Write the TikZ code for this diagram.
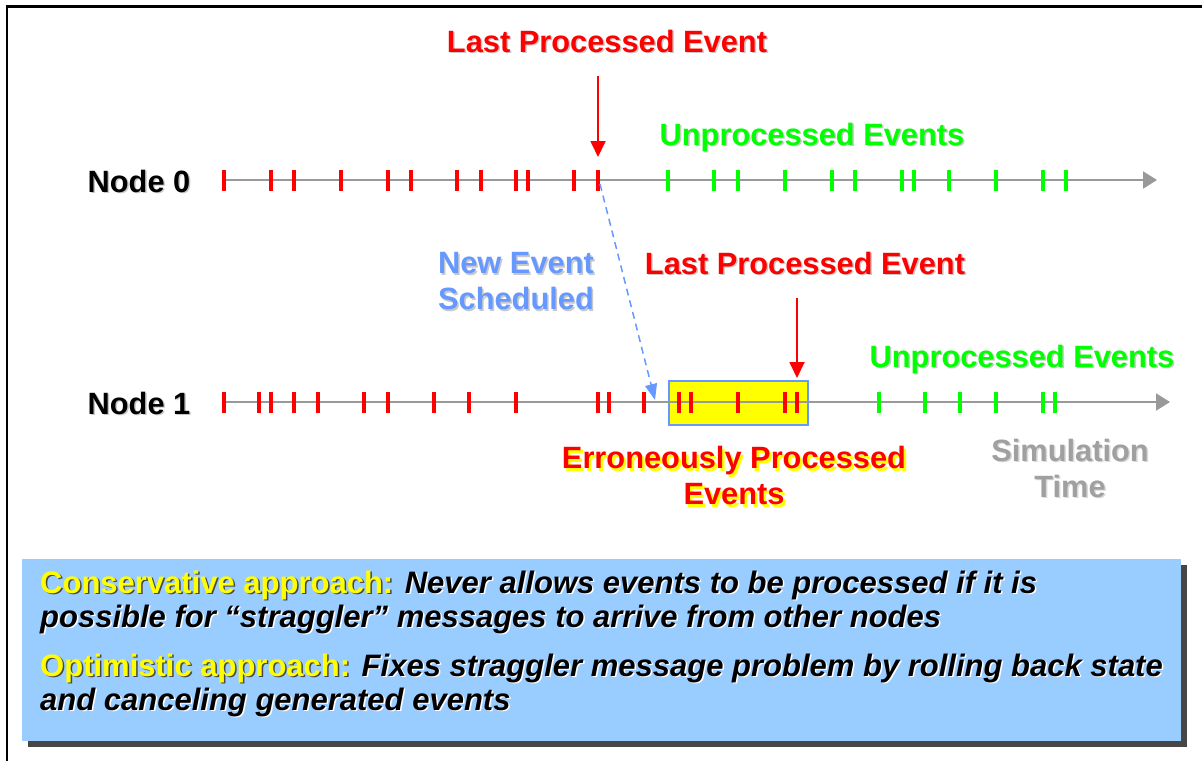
\documentclass[tikz,border=0pt]{standalone}
\usepackage{fontspec}
\setmainfont{Liberation Sans}
\usetikzlibrary{arrows.meta}

\definecolor{evred}{HTML}{FF0000}
\definecolor{evgreen}{HTML}{00FF00}
\definecolor{schedblue}{HTML}{6699FF}
\definecolor{axisgray}{HTML}{999999}
\definecolor{simgray}{HTML}{A0A0A0}
\definecolor{errfill}{HTML}{FFFF00}
\definecolor{notefill}{HTML}{99CCFF}
\definecolor{noteshadow}{HTML}{474747}
\definecolor{softshadow}{HTML}{C8C8C8}

% text with a drop shadow: [offset]{shadow colour}{text colour}{text}
\newcommand\shd[4][1.5pt]{\leavevmode\rlap{\kern#1\raisebox{-#1}{\textcolor{#2}{#4}}}\textcolor{#3}{#4}}

\tikzset{
  lbl/.style={font=\bfseries\fontsize{30.8}{36}\selectfont, inner sep=0pt, align=center},
  notetext/.style={font=\bfseries\fontsize{31}{34}\selectfont, inner sep=0pt, align=left, anchor=west},
  axis/.style={axisgray, line width=2.2pt, -{Triangle[length=14pt,width=17pt]}},
  redtick/.style={evred, line width=4pt},
  greentick/.style={evgreen, line width=4pt},
  lastarrow/.style={evred, line width=1.8pt, -{Triangle[length=16pt,width=15pt]}},
  schedarrow/.style={schedblue, line width=1.5pt, dash pattern=on 7pt off 5pt,
                     -{Triangle[length=16pt,width=12pt]}},
}

\begin{document}
\begin{tikzpicture}[x=1pt,y=-1pt]
\useasboundingbox (0,0) rectangle (1202,761);

% frame on the top and left edges
\draw[line width=2.6pt] (1202,6.5) -- (7,6.5) -- (7,761);

% ---- Node 0 time line ----
\node[lbl, anchor=base] (n0) at (139,192) {\shd{softshadow}{black}{Node 0}};
\coordinate (n0s) at (224,180);
\coordinate (n0e) at (1157,180);
\draw[axis] (n0s) -- (n0e);
\foreach \x in {224,271,294,341,388,411,457,481,516,528,574,598}
  \draw[redtick] (\x,170) -- (\x,191);
\foreach \x in {668,714,738,785,832,855,902,914,949,996,1043,1066}
  \draw[greentick] (\x,170) -- (\x,191);

\node[lbl, anchor=base] (lpe0) at (607,52) {\shd{softshadow}{evred}{Last Processed Event}};
\node[lbl, anchor=base] (up0) at (812,145) {\shd{softshadow}{evgreen}{Unprocessed Events}};
\coordinate (lpe0from) at (598,76);
\coordinate (lpe0to) at (598,157);
\draw[lastarrow] (lpe0from) -- (lpe0to);

% ---- Node 1 time line ----
\node[draw=schedblue, line width=2pt, fill=errfill, minimum width=139pt,
      minimum height=44pt, inner sep=0pt] (errbox) at (738.5,402.5) {};
\node[lbl, anchor=base] (n1) at (139,414) {\shd{softshadow}{black}{Node 1}};
\coordinate (n1s) at (224,402);
\coordinate (n1e) at (1170,402);
\draw[axis] (n1s) -- (n1e);
\foreach \x in {224,259,271,294,318,364,388,434,469,516,598,609,644,679,691,738,785,797}
  \draw[redtick] (\x,392) -- (\x,413);
\foreach \x in {879,925,960,996,1043,1055}
  \draw[greentick] (\x,392) -- (\x,413);

\node[lbl, anchor=base] (lpe1) at (805,274) {\shd{softshadow}{evred}{Last Processed Event}};
\node[lbl, anchor=base] (up1) at (1022,367) {\shd{softshadow}{evgreen}{Unprocessed Events}};
\coordinate (lpe1from) at (797,298);
\coordinate (lpe1to) at (797,378);
\draw[lastarrow] (lpe1from) -- (lpe1to);

% straggler message sent from node 0 to node 1
\node[lbl] (sched) at (516,282) {\shd{softshadow}{schedblue}{New Event}\\\shd{softshadow}{schedblue}{Scheduled}};
\coordinate (schedfrom) at (600,184);
\coordinate (schedto) at (655,400);
\draw[schedarrow] (schedfrom) -- (schedto);

\node[lbl] (err) at (734,477) {\shd[2.5pt]{errfill}{evred}{Erroneously Processed}\\\shd[2.5pt]{errfill}{evred}{Events}};
\node[lbl] (simt) at (1070,469) {\shd{white!85!black}{simgray}{Simulation}\\\shd{white!85!black}{simgray}{Time}};

% ---- note box ----
\fill[noteshadow] (28,565) rectangle (1187,747);
\node[fill=notefill, minimum width=1159pt, minimum height=182pt, inner sep=0pt,
      anchor=north west] (note) at (22,559) {};
\node[notetext] (cons) at (40,603)
  {\shd{noteshadow}{errfill}{Conservative approach:} \shd{white}{black}{\itshape Never allows events to be processed if it is}\\
   \shd{white}{black}{\itshape possible for “straggler” messages to arrive from other nodes}};
\node[notetext] (opt) at (40,686)
  {\shd{noteshadow}{errfill}{Optimistic approach:} \shd{white}{black}{\itshape Fixes straggler message problem by rolling back state}\\
   \shd{white}{black}{\itshape and canceling generated events}};
\end{tikzpicture}
\end{document}
